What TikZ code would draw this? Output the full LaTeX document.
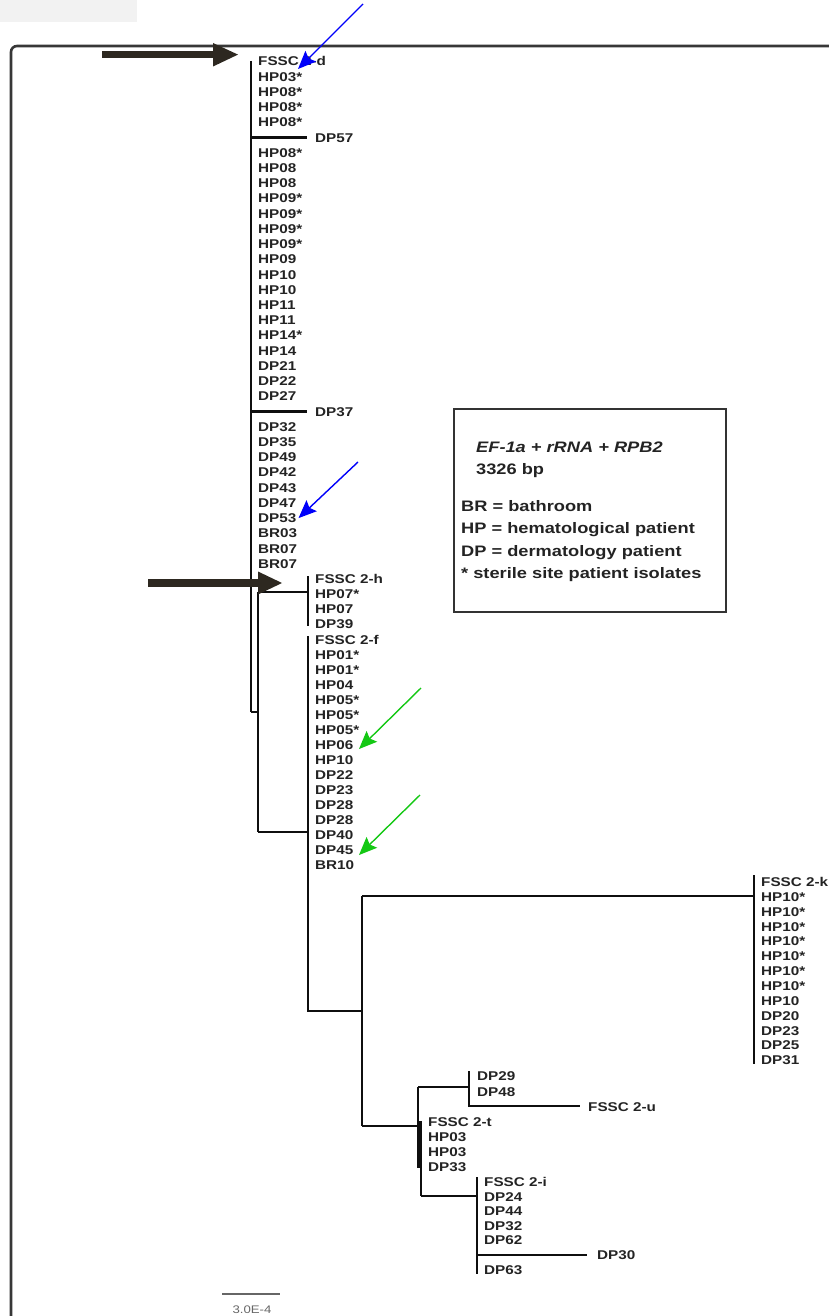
\documentclass[tikz,border=0pt]{standalone}
\usepackage{fontspec}
\setmainfont{Liberation Sans}[FakeStretch=1.2]
\usetikzlibrary{arrows.meta}
\definecolor{arrowdark}{RGB}{45,40,32}
\definecolor{treeline}{RGB}{15,15,15}
\definecolor{bluearr}{RGB}{0,0,250}
\definecolor{greenarr}{RGB}{20,200,20}
\definecolor{framegray}{RGB}{55,55,55}
\definecolor{labtext}{RGB}{35,35,35}
\begin{document}
\begin{tikzpicture}[x=1pt,y=-1pt,
  lab/.style={anchor=west,inner sep=0pt,font=\fontsize{12.7}{12.7}\selectfont\bfseries,text height=9pt,text depth=0pt,text=labtext},
  legtext/.style={anchor=west,inner sep=0pt,font=\fontsize{15.2}{15.2}\selectfont\bfseries,text height=11pt,text depth=0pt,text=labtext},
  branch/.style={draw=treeline,line width=2.7pt},
  bigarrow/.style={fill=arrowdark,draw=none},
  pointer/.style={line width=1.4pt,-{Stealth[length=18pt,width=15pt,inset=3pt]}}
]
\useasboundingbox (0,0) rectangle (828,1316);
% faint header remnant
\fill[black!5] (0,0) rectangle (137,22);
% frame
\draw[framegray,line width=2.6pt,rounded corners=6pt] (11,1330) -- (11,46) -- (840,46);

% ---- clade d (top) ----
\foreach \t/\xx [count=\i] in {FSSC 2-d/258,HP03*/258,HP08*/258,HP08*/258,HP08*/258,DP57/315,
  HP08*/258,HP08/258,HP08/258,HP09*/258,HP09*/258,HP09*/258,HP09*/258,HP09/258,HP10/258,HP10/258,
  HP11/258,HP11/258,HP14*/258,HP14/258,DP21/258,DP22/258,DP27/258,DP37/315,
  DP32/258,DP35/258,DP49/258,DP42/258,DP43/258,DP47/258,DP53/258,BR03/258,BR07/258,BR07/258}{
  \pgfmathsetmacro\yy{61.5+(\i-1)*15.22}
  \node[lab] (d\i) at (\xx,\yy) {\t};
}
\coordinate (dtop) at (251,61);
\coordinate (dbot) at (251,712);
\draw[branch] (dtop) -- (dbot);
\draw[branch] (dtop |- d6) -- ([xshift=-8pt]d6.west);
\draw[branch] (dtop |- d24) -- ([xshift=-8pt]d24.west);

% ---- clade h ----
\foreach \t [count=\i] in {FSSC 2-h,HP07*,HP07,DP39}{
  \pgfmathsetmacro\yy{579+(\i-1)*15}
  \node[lab] (h\i) at (315,\yy) {\t};
}
\coordinate (htop) at (308,576);
\coordinate (hbot) at (308,626);
\draw[branch] (htop) -- (hbot);

% ---- clade f ----
\foreach \t [count=\i] in {FSSC 2-f,HP01*,HP01*,HP04,HP05*,HP05*,HP05*,HP06,HP10,DP22,DP23,DP28,DP28,DP40,DP45,BR10}{
  \pgfmathsetmacro\yy{640+(\i-1)*15}
  \node[lab] (f\i) at (315,\yy) {\t};
}
\coordinate (ftop) at (308,636);
\coordinate (fbot) at (308,1011);

% internal nodes
\coordinate (nA) at (258,592);
\coordinate (nAbot) at (258,832);
\coordinate (nB) at (362,896);
\coordinate (nBbot) at (362,1126);

\draw[branch] (dbot) -- (dbot -| nA);
\draw[branch] (nA) -- (nAbot);
\draw[branch] (nA) -- (nA -| htop);
\draw[branch] (nAbot) -- (nAbot -| ftop);
\draw[branch] (ftop) -- (fbot) -- (fbot -| nB);
\draw[branch] (nB) -- (nBbot);

% ---- clade k ----
\foreach \t [count=\i] in {FSSC 2-k,HP10*,HP10*,HP10*,HP10*,HP10*,HP10*,HP10*,HP10,DP20,DP23,DP25,DP31}{
  \pgfmathsetmacro\yy{882+(\i-1)*14.85}
  \node[lab] (k\i) at (761,\yy) {\t};
}
\coordinate (ktop) at (754,875);
\coordinate (kbot) at (754,1064);
\draw[branch] (ktop) -- (kbot);
\draw[branch] (nB) -- (nB -| ktop);

% ---- lower group ----
\coordinate (nC) at (418,1087);
\coordinate (nCmid) at (418,1126);
\coordinate (nCbot) at (418,1167);
\coordinate (nD) at (421,1123);
\coordinate (nDbot) at (421,1196);
\draw[branch] (nBbot) -- (nCmid);
\draw[branch] (nC) -- (nCbot);
\draw[draw=treeline,line width=4.5pt] (419.5,1121) -- (419.5,1168);
\draw[branch] (nD) -- (nDbot);

% u
\node[lab] (u1) at (477,1076) {DP29};
\node[lab] (u2) at (477,1092) {DP48};
\node[lab] (u3) at (588,1107) {FSSC 2-u};
\coordinate (utop) at (469,1071);
\coordinate (ubot) at (469,1106);
\draw[branch] (nC) -- (nC -| utop);
\draw[branch] (utop) -- (ubot) -- ([xshift=-8pt]u3.west |- ubot);

% t
\foreach \t [count=\i] in {FSSC 2-t,HP03,HP03,DP33}{
  \pgfmathsetmacro\yy{1122+(\i-1)*15}
  \node[lab] (t\i) at (428,\yy) {\t};
}

% i
\foreach \t [count=\i] in {FSSC 2-i,DP24,DP44,DP32,DP62}{
  \pgfmathsetmacro\yy{1182+(\i-1)*14.6}
  \node[lab] (i\i) at (484,\yy) {\t};
}
\node[lab] (i6) at (597,1255) {DP30};
\node[lab] (i7) at (484,1270) {DP63};
\coordinate (itop) at (477,1177);
\coordinate (ibot) at (477,1274);
\draw[branch] (itop) -- (ibot);
\draw[branch] (nDbot) -- (nDbot -| itop);
\draw[branch] (itop |- i6) -- ([xshift=-10pt]i6.west);

% ---- legend ----
\node[draw=black!80,line width=2.2pt,minimum width=272pt,minimum height=203pt,anchor=north west,inner sep=0pt] (legend) at (453,408) {};
\node[legtext,font=\fontsize{15.2}{15.2}\selectfont\bfseries\itshape] (lg1) at (476,447) {EF-1a + rRNA + RPB2};
\node[legtext] (lg2) at (476,469) {3326 bp};
\node[legtext] (lg3) at (461,506) {BR = bathroom};
\node[legtext] (lg4) at (461,528) {HP = hematological patient};
\node[legtext] (lg5) at (461,551) {DP = dermatology patient};
\node[legtext] (lg6) at (461,573) {* sterile site patient isolates};

% ---- scale bar ----
\coordinate (sb1) at (222,1294);
\coordinate (sb2) at (280,1294);
\draw[black!60,line width=1.2pt] (sb1) -- (sb2);
\node[inner sep=0pt,font=\fontsize{11}{11}\selectfont,text=black!60] (sbl) at (252,1310) {3.0E-4};

% ---- big dark arrows ----
\fill[bigarrow] (102,50.7) rectangle (214,58.5);
\fill[bigarrow] (213,43) -- (238,54.6) -- (213,66.5) -- cycle;
\fill[bigarrow] (148,579) rectangle (259,587);
\fill[bigarrow] (258,571.5) -- (282,583) -- (258,594.5) -- cycle;

% ---- pointer arrows ----
\coordinate (b1s) at (363,4);
\coordinate (b2s) at (358,462);
\coordinate (g1s) at (421,688);
\coordinate (g2s) at (420,795);
\draw[pointer,bluearr] (b1s) -- (298,69);
\draw[pointer,bluearr] (b2s) -- ([xshift=2pt]d31.east);
\draw[pointer,greenarr] (g1s) -- (359,749);
\draw[pointer,greenarr] (g2s) -- (359,855);
\end{tikzpicture}
\end{document}
